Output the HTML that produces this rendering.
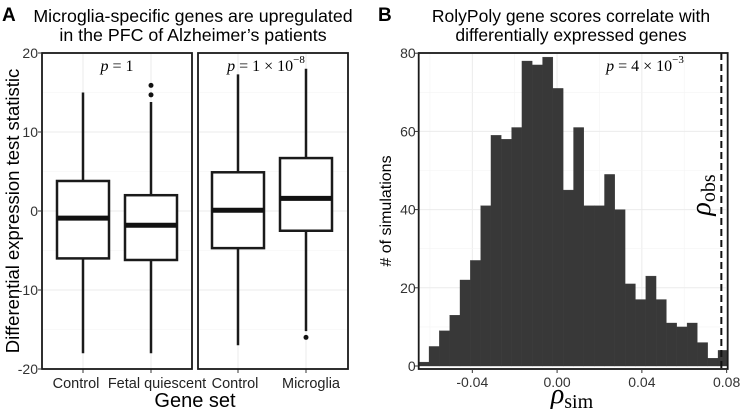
<!DOCTYPE html>
<html><head><meta charset="utf-8"><style>
body{margin:0;background:#fff;}
svg{display:block;font-family:"Liberation Sans",sans-serif;}
.tk{font-size:14px;fill:#333;}
.ser{font-family:"Liberation Serif",serif;}
</style></head><body>
<svg id="chart" width="743" height="411" viewBox="0 0 743 411">
<text x="2" y="21" font-size="19" font-weight="bold">A</text>
<text x="193" y="22" font-size="17.8" text-anchor="middle">Microglia-specific genes are upregulated</text>
<text x="193" y="41" font-size="17.8" text-anchor="middle">in the PFC of Alzheimer’s patients</text>
<text x="378" y="21" font-size="19" font-weight="bold">B</text>
<text x="571" y="22" font-size="17.5" text-anchor="middle">RolyPoly gene scores correlate with</text>
<text x="571" y="41" font-size="17.5" text-anchor="middle">differentially expressed genes</text>
<g id="pa"></g><g id="pb"></g>
</svg>
<script>
const NS="http://www.w3.org/2000/svg";
function mk(p,t,a){const e=document.createElementNS(NS,t);for(const k in a)e.setAttribute(k,a[k]);p.appendChild(e);return e;}
// Panel A data
const groups=["Control","Fetal quiescent","Control","Microglia"];
const facet=[0,0,1,1];
const q1=[-6,-6.2,-4.7,-2.5];
const medians=[-0.9,-1.8,0.1,1.6];
const q3=[3.8,2,4.9,6.7];
const whiskLo=[-18,-18,-17,-15.2];
const whiskHi=[15,13.8,17.3,18];
const outliers=[[],[14.7,15.9],[],[-16]];
const yTicksA=[-20,-10,0,10,20];
const pA=["p = 1","p = 1 × 10"];
// Panel B data
const binStart=-0.0653, binWidth=0.00487;
const counts=[1,5,9,13,22,27,41,59,58,61,78,77,79,71,45,61,41,41,49,40,21,17,23,17,11,10,11,6,2,4];
const xTicksB=[-0.04,0,0.04,0.08];
const xTickLabelsB=["-0.04","0.00","0.04","0.08"];
const yTicksB=[0,20,40,60,80];
const rhoObs=0.0775;

const pa=document.getElementById('pa');
const yA=v=>211-v*7.9;
const facetX=[[42,192],[198,348]];
const xA=i=>[83,151,238,306][i];
const labelX=[76,157,235,311];
facetX.forEach((f,fi)=>{
  const g=mk(pa,'g',{});
  
  
  yTicksA.forEach(t=>{mk(g,'line',{x1:f[0],x2:f[1],y1:yA(t),y2:yA(t),stroke:'#ebebeb','stroke-width':1});});
  [-15,-5,5,15].forEach(t=>{mk(g,'line',{x1:f[0],x2:f[1],y1:yA(t),y2:yA(t),stroke:'#f4f4f4','stroke-width':0.6});});
});
groups.forEach((gname,i)=>{
  const x=xA(i);
  mk(pa,'line',{x1:x,x2:x,y1:53,y2:369,stroke:'#ebebeb','stroke-width':1});
});
groups.forEach((gname,i)=>{
  const x=xA(i),w=52;
  const g=mk(pa,'g',{});
  
  
  mk(g,'line',{x1:x,x2:x,y1:yA(whiskHi[i]),y2:yA(q3[i]),stroke:'#1a1a1a','stroke-width':2.5});
  mk(g,'line',{x1:x,x2:x,y1:yA(q1[i]),y2:yA(whiskLo[i]),stroke:'#1a1a1a','stroke-width':2.5});
  mk(g,'rect',{x:x-w/2,y:yA(q3[i]),width:w,height:yA(q1[i])-yA(q3[i]),fill:'#fff',stroke:'#1a1a1a','stroke-width':2.5});
  mk(g,'line',{x1:x-w/2,x2:x+w/2,y1:yA(medians[i]),y2:yA(medians[i]),stroke:'#111','stroke-width':5});
  outliers[i].forEach(o=>mk(g,'circle',{cx:x,cy:yA(o),r:2.5,fill:'#111'}));
  const t=mk(pa,'text',{x:labelX[i],y:388,'font-size':14.5,'text-anchor':'middle',fill:'#222'});t.textContent=gname;
  
  
  mk(pa,'line',{x1:x,x2:x,y1:369,y2:373,stroke:'#333'});
});
facetX.forEach(f=>mk(pa,'rect',{x:f[0],y:53,width:f[1]-f[0],height:316,fill:'none',stroke:'#1a1a1a','stroke-width':1.8}));
yTicksA.forEach(t=>{
  mk(pa,'line',{x1:38,x2:42,y1:yA(t),y2:yA(t),stroke:'#333'});
  const e=mk(pa,'text',{x:38,y:yA(t)+5,'text-anchor':'end',class:'tk'});e.textContent=t;
  
  
});
let e=mk(pa,'text',{x:117,y:71,'font-size':16,'text-anchor':'middle',class:'ser'});e.innerHTML='<tspan font-style="italic">p</tspan> = 1';


e=mk(pa,'text',{x:266,y:71,'font-size':16,'text-anchor':'middle',class:'ser'});e.innerHTML='<tspan font-style="italic">p</tspan> = 1 × 10<tspan dy="-8" font-size="11">−8</tspan>';


e=mk(pa,'text',{x:0,y:0,'font-size':18.5,'text-anchor':'middle',transform:'translate(19,211) rotate(-90)'});e.textContent='Differential expression test statistic';


e=mk(pa,'text',{x:195,y:407,'font-size':20,'text-anchor':'middle'});e.textContent='Gene set';



// Panel B
const pb=document.getElementById('pb');
const L=418.7,R=727.7,xmin=-0.0653,xmax=0.0805;
const xB=v=>L+(v-xmin)/(xmax-xmin)*(R-L);
const yB=v=>366-v*3.91;
[-0.06,-0.02,0.02,0.06].forEach(t=>mk(pb,'line',{x1:xB(t),x2:xB(t),y1:53,y2:366,stroke:'#f4f4f4','stroke-width':0.6}));
xTicksB.forEach(t=>mk(pb,'line',{x1:xB(t),x2:xB(t),y1:53,y2:366,stroke:'#ebebeb','stroke-width':1}));
[10,30,50,70].forEach(t=>mk(pb,'line',{x1:L,x2:R,y1:yB(t),y2:yB(t),stroke:'#f4f4f4','stroke-width':0.6}));
yTicksB.forEach(t=>mk(pb,'line',{x1:L,x2:R,y1:yB(t),y2:yB(t),stroke:'#ebebeb','stroke-width':1}));
counts.forEach((c,i)=>{
  const x0=xB(binStart+i*binWidth),x1=xB(binStart+(i+1)*binWidth);
  const r=mk(pb,'rect',{x:x0,y:yB(c),width:x1-x0,height:yB(0)-yB(c),fill:'#383838',stroke:'#383838','stroke-width':0.3});
  
  
});
e=mk(pb,'line',{x1:xB(rhoObs),x2:xB(rhoObs),y1:53,y2:370,stroke:'#111','stroke-width':2,'stroke-dasharray':'7,4'});


mk(pb,'rect',{x:L,y:53,width:R-L,height:316,fill:'none',stroke:'#1a1a1a','stroke-width':1.8});
yTicksB.forEach(t=>{
  mk(pb,'line',{x1:L-4,x2:L,y1:yB(t),y2:yB(t),stroke:'#333'});
  const e=mk(pb,'text',{x:L-3,y:yB(t)+5,'text-anchor':'end',class:'tk'});e.textContent=t;
  
  
});
xTicksB.forEach((t,i)=>{
  mk(pb,'line',{x1:xB(t),x2:xB(t),y1:369,y2:373,stroke:'#333'});
  const e=mk(pb,'text',{x:xB(t),y:387,'text-anchor':'middle',class:'tk'});e.textContent=xTickLabelsB[i];
  
  
});
e=mk(pb,'text',{x:0,y:0,'font-size':16,'text-anchor':'middle',transform:'translate(391,211) rotate(-90)'});e.textContent='# of simulations';


e=mk(pb,'text',{x:572,y:403,'font-size':28,'text-anchor':'middle',class:'ser','font-style':'italic'});e.innerHTML='ρ<tspan font-style="normal" font-size="20" dy="5">sim</tspan>';


e=mk(pb,'text',{x:645,y:71,'font-size':16,'text-anchor':'middle',class:'ser'});e.innerHTML='<tspan font-style="italic">p</tspan> = 4 × 10<tspan dy="-8" font-size="11">−3</tspan>';


e=mk(pb,'text',{x:0,y:0,'font-size':28,'text-anchor':'middle',class:'ser','font-style':'italic',transform:'translate(710,195) rotate(-90)'});e.innerHTML='ρ<tspan font-style="normal" font-size="20" dy="5">obs</tspan>';


</script>
</body></html>
